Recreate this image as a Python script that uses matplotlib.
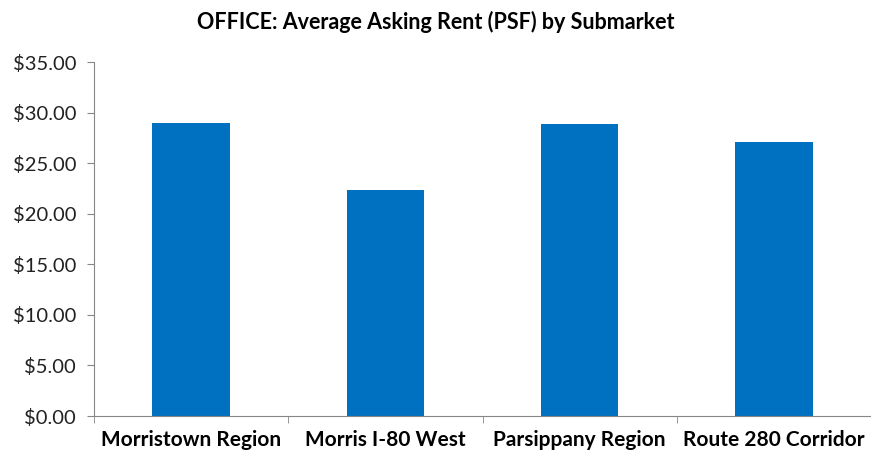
import matplotlib.pyplot as plt
from matplotlib.ticker import FuncFormatter

# data
submarkets = ["Morristown Region", "Morris I-80 West", "Parsippany Region", "Route 280 Corridor"]
asking_rent = [28.97, 22.35, 28.88, 27.13]

plt.rcParams["font.family"] = ["Lato", "DejaVu Sans"]

fig = plt.figure(figsize=(8.71, 4.57), dpi=100)
ax = fig.add_axes([0.108, 0.0897, 0.892, 0.7743])

x = range(len(submarkets))
ax.bar(x, asking_rent, width=0.4, color="#0070C0")

ax.set_xlim(-0.5, len(submarkets) - 0.5)
ax.set_ylim(0, 35)
ax.set_yticks(range(0, 36, 5))
ax.yaxis.set_major_formatter(FuncFormatter(lambda v, _: f"${v:,.2f}"))

ax.set_xticks(list(x))
ax.set_xticklabels(submarkets, fontsize=15, fontweight="bold")
ax.tick_params(axis="x", length=0, pad=10)
ax.set_xticks([i - 0.5 for i in range(len(submarkets) + 1)], minor=True)
ax.tick_params(axis="x", which="minor", length=5, color="#868686")
ax.tick_params(axis="y", labelsize=14.5, length=5, color="#868686", pad=8, labelcolor="#222222")

for side in ["top", "right"]:
    ax.spines[side].set_visible(False)
for side in ["left", "bottom"]:
    ax.spines[side].set_color("#868686")

fig.text(0.5, 0.952, "OFFICE: Average Asking Rent (PSF) by Submarket",
         ha="center", va="center", fontsize=15.5, fontweight="bold")

fig.savefig("out.png", dpi=100)
